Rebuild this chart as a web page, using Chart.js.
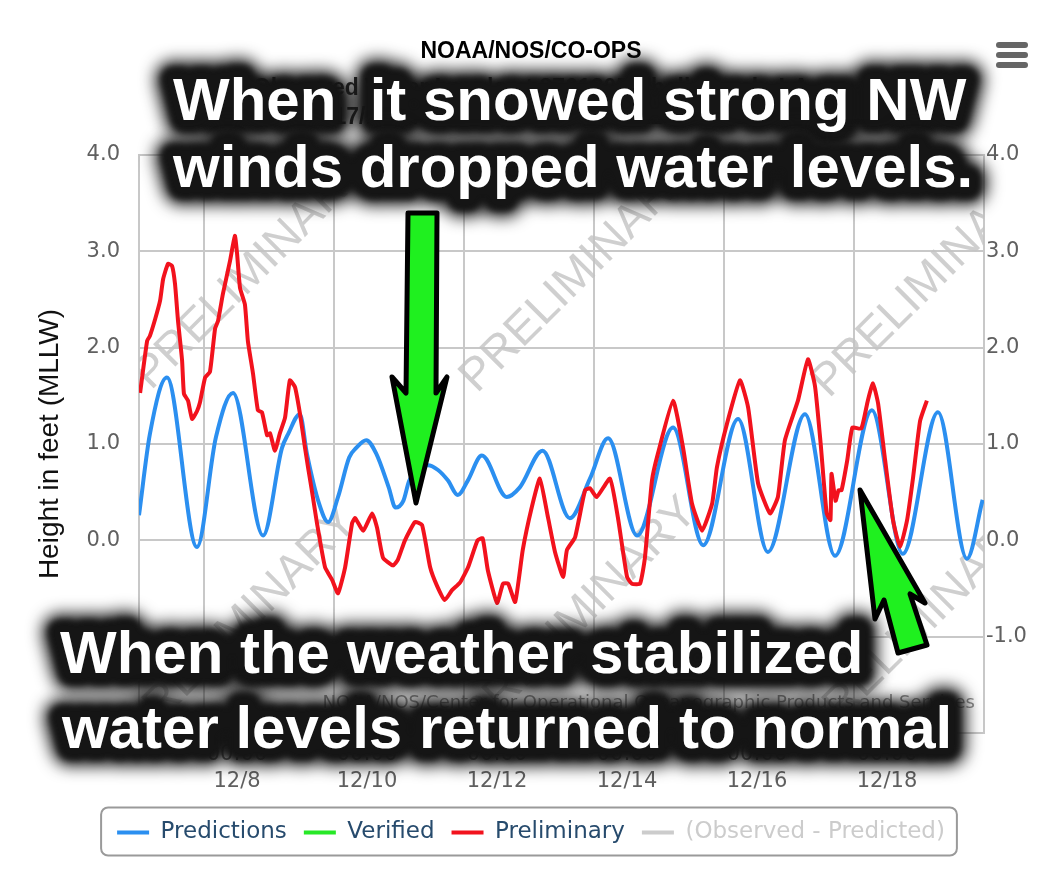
<!DOCTYPE html>
<html><head><meta charset="utf-8">
<script src="https://cdn.jsdelivr.net/npm/chart.js@4.4.0/dist/chart.umd.min.js"></script>
<style>html,body{margin:0;padding:0;background:#fff;}#wrap{width:1062px;height:876px;}canvas{display:block;}</style>
</head><body><div id="wrap"><canvas id="c" width="1062" height="876"></canvas></div>
<script>
// ---- data (hours since 2017/12/07 00:00 GMT, feet MLLW) ----
const predHours = [0, 4, 10.3, 21.4, 28.4, 34.7, 45.8, 52.8, 55, 59.4, 62, 66.5, 69.8, 73.5, 77.6, 80.2, 83.9, 87.6, 92.2, 94.7, 97.6, 99.8, 106.7, 110.4, 114.1, 117.7, 121.4, 126.6, 135.8, 140.6, 149, 159.1, 166.5, 173.2, 183.9, 197.2, 208.3, 221.2, 232.2, 245.9, 257, 270.6, 282, 295, 305.7, 311.5];
const predFeet  = [0.26, 1.1, 1.69, -0.07, 1.07, 1.53, 0.05, 0.96, 1.1, 1.31, 0.9, 0.38, 0.19, 0.45, 0.86, 0.96, 1.04, 0.9, 0.55, 0.34, 0.41, 0.62, 0.78, 0.73, 0.62, 0.47, 0.62, 0.88, 0.45, 0.55, 0.93, 0.23, 0.64, 1.06, 0.05, 1.17, -0.05, 1.26, -0.12, 1.31, -0.16, 1.35, -0.14, 1.33, -0.19, 0.42];

const prelimHours = [0.4, 3, 4, 6, 7.8, 8.9, 10.7, 12.2, 13.3, 14.4, 15.9, 16.6, 18.1, 19.6, 21.4, 22.5, 24.4, 26.2, 28.1, 29.2, 31, 33.6, 35.4, 36.2, 37.3, 39.1, 40.2, 42.1, 43.9, 45.4, 47.3, 48.4, 50.2, 52, 53.9, 55.7, 57.6, 59.4, 61.3, 62.4, 64.2, 65.7, 68.7, 71.3, 73.5, 76.1, 78.7, 79.8, 82.8, 86.1, 87.9, 90.1, 93.8, 95.6, 98.2, 101.9, 104.5, 107.5, 110, 112.9, 115.5, 118.5, 121.5, 125, 126.9, 128.8, 132.2, 134.4, 136.3, 138.9, 141.7, 145, 148, 151, 153.6, 156.6, 158, 161, 164.7, 166.5, 169, 173.9, 176.8, 180.2, 182, 185, 186.8, 189.4, 191.6, 197.2, 200.9, 204.2, 207.9, 211.6, 213.4, 217.1, 221.9, 224.9, 228.6, 233, 235.9, 238.5, 243.3, 247, 249.6, 251.7, 253.9, 255.3, 255.7, 257.2, 258.3, 259.4, 261.5, 263.4, 266.7, 269.1, 271, 272.9, 275.5, 278.4, 281, 283.6, 285.8, 288.4, 290.9];
const prelimFeet  = [1.53, 2.07, 2.12, 2.3, 2.49, 2.71, 2.87, 2.85, 2.66, 2.28, 1.87, 1.52, 1.45, 1.26, 1.34, 1.43, 1.69, 1.75, 2.2, 2.28, 2.56, 2.9, 3.16, 2.98, 2.62, 2.45, 2.07, 1.73, 1.35, 1.33, 1.09, 1.11, 0.93, 1.11, 1.27, 1.66, 1.59, 1.32, 0.96, 0.76, 0.45, 0.18, -0.28, -0.41, -0.55, -0.28, 0.18, 0.23, 0.1, 0.28, 0.13, -0.18, -0.26, -0.2, 0.0, 0.19, 0.16, -0.28, -0.47, -0.62, -0.52, -0.44, -0.28, 0.0, 0.02, -0.31, -0.65, -0.45, -0.45, -0.64, -0.1, 0.34, 0.64, 0.24, -0.12, -0.38, -0.1, 0.03, 0.52, 0.54, 0.45, 0.64, 0.24, -0.38, -0.45, -0.45, -0.18, 0.62, 0.9, 1.45, 0.96, 0.38, 0.1, 0.38, 0.76, 1.21, 1.66, 1.38, 0.59, 0.28, 0.45, 1.04, 1.45, 1.88, 1.6, 1.0, 0.28, 0.21, 0.69, 0.41, 0.52, 0.52, 0.83, 1.17, 1.16, 1.45, 1.63, 1.42, 0.83, 0.21, -0.07, 0.21, 0.65, 1.24, 1.45];

const verifiedFeet = [];
const diffFeet = [];

const xTickHours = [24, 72, 120, 168, 216, 264];
const xTickTimes = ['00:00', '00:00', '00:00', '00:00', '00:00', '00:00'];
const xTickDates = ['12/8', '12/10', '12/12', '12/14', '12/16', '12/18'];
const xMinHour = 0, xMaxHour = 312;
const yMinFeet = -2, yMaxFeet = 4, yStepFeet = 1;

const seriesNames  = ['Predictions', 'Verified', 'Preliminary', '(Observed - Predicted)'];
const seriesColors = ['#2b8ff0', '#27e827', '#f2121d', '#cccccc'];

const chartTitle = 'NOAA/NOS/CO-OPS';
const chartSubtitle = ['Observed Water Levels at 8761305 Shell Beach, LA', 'From 2017/12/07 00:00 GMT to 2017/12/19 23:59 GMT'];
const yAxisTitle = 'Height in feet (MLLW)';
const creditsText = 'NOAA/NOS/Center for Operational Oceanographic Products and Services';
const watermarkText = 'PRELIMINARY';
const noteTop = ['When  it snowed strong NW', 'winds dropped water levels.'];
const noteBottom = ['When the weather stabilized', 'water levels returned to normal'];

// ---- build ----
const pts = (xs, ys) => xs.map((x, i) => ({x: x, y: ys[i]}));
const TICK_FONT = {family: '"DejaVu Sans", Verdana, sans-serif', size: 21};
const GRID = '#c8c8c8';

const watermarkPlugin = {
  id: 'watermark',
  beforeDatasetsDraw(chart) {
    const {ctx, chartArea: a} = chart;
    ctx.save();
    ctx.beginPath(); ctx.rect(a.left, a.top, a.right - a.left, a.bottom - a.top); ctx.clip();
    ctx.font = '46px "Liberation Sans", Arial, sans-serif';
    ctx.fillStyle = 'rgba(195,195,195,0.8)';
    ctx.textAlign = 'center'; ctx.textBaseline = 'middle';
    const centers = [[252, 272], [578, 275], [930, 280], [240, 625], [580, 615], [920, 625]];
    centers.forEach(([cx, cy]) => {
      ctx.save(); ctx.translate(cx, cy); ctx.rotate(-Math.PI / 4);
      ctx.fillText(watermarkText, 0, 0); ctx.restore();
    });
    ctx.restore();
  }
};

function halo(ctx, text, x, y) {
  ctx.save();
  ctx.font = 'bold 60px "Liberation Sans", Arial, sans-serif';
  ctx.textAlign = 'left'; ctx.textBaseline = 'alphabetic';
  ctx.lineJoin = 'round'; ctx.lineCap = 'round';
  ctx.strokeStyle = '#151515'; ctx.fillStyle = '#151515';
  ctx.filter = 'blur(8px)'; ctx.lineWidth = 36; ctx.strokeText(text, x, y);
  ctx.filter = 'blur(3px)'; ctx.lineWidth = 24; ctx.strokeText(text, x, y);
  ctx.restore();
}
function whiteText(ctx, text, x, y) {
  ctx.save();
  ctx.font = 'bold 60px "Liberation Sans", Arial, sans-serif';
  ctx.textAlign = 'left'; ctx.textBaseline = 'alphabetic';
  ctx.fillStyle = '#ffffff'; ctx.fillText(text, x, y);
  ctx.restore();
}
function arrow(ctx, poly) {
  ctx.save();
  ctx.beginPath();
  poly.forEach(([x, y], i) => i ? ctx.lineTo(x, y) : ctx.moveTo(x, y));
  ctx.closePath();
  ctx.fillStyle = '#1ff01f'; ctx.fill();
  ctx.lineJoin = 'round'; ctx.lineWidth = 5; ctx.strokeStyle = '#000'; ctx.stroke();
  ctx.restore();
}

const overlayPlugin = {
  id: 'overlay',
  afterDraw(chart) {
    const ctx = chart.ctx;
    const hb = chart.legend.legendHitBoxes;
    if (hb && hb.length) {
      const l = Math.min(...hb.map(h => h.left)) - 16;
      const r = Math.max(...hb.map(h => h.left + h.width)) + 12;
      const cy = hb[0].top + hb[0].height / 2;
      ctx.save();
      ctx.beginPath(); ctx.roundRect(l, cy - 25, r - l, 48, 7);
      ctx.lineWidth = 2; ctx.strokeStyle = '#9a9a9a'; ctx.stroke();
      ctx.restore();
    }
    ctx.save();
    ctx.font = '18px "DejaVu Sans", Verdana, sans-serif';
    ctx.fillStyle = '#8c8c8c'; ctx.textAlign = 'right'; ctx.textBaseline = 'middle';
    ctx.fillText(creditsText, 975, 703);
    ctx.restore();
    ctx.save(); ctx.fillStyle = '#666666';
    [42, 52, 62].forEach(y => { ctx.beginPath(); ctx.roundRect(996, y, 32, 6, 3); ctx.fill(); });
    ctx.restore();
    halo(ctx, noteTop[0], 173, 120); halo(ctx, noteTop[1], 173, 187);
    halo(ctx, noteBottom[0], 60, 673); halo(ctx, noteBottom[1], 62, 748);
    whiteText(ctx, noteTop[0], 173, 120); whiteText(ctx, noteTop[1], 173, 187);
    whiteText(ctx, noteBottom[0], 60, 673); whiteText(ctx, noteBottom[1], 62, 748);
    arrow(ctx, [[408, 213], [437, 213], [436, 393], [447, 377], [416, 503], [392, 377], [406, 393]]);
    arrow(ctx, [[860, 490], [925, 603], [910, 594], [927, 645], [898, 653], [884, 600], [875, 619]]);
  }
};

new Chart(document.getElementById('c'), {
  type: 'line',
  data: {
    datasets: [
      {label: seriesNames[0], data: pts(predHours, predFeet), borderColor: seriesColors[0], borderWidth: 4, pointRadius: 0, cubicInterpolationMode: 'monotone', order: 3, yAxisID: 'y'},
      {label: seriesNames[1], data: verifiedFeet, borderColor: seriesColors[1], borderWidth: 4, pointRadius: 0, order: 2, yAxisID: 'y'},
      {label: seriesNames[2], data: pts(prelimHours, prelimFeet), borderColor: seriesColors[2], borderWidth: 4, pointRadius: 0, tension: 0.15, order: 1, yAxisID: 'y'},
      {label: seriesNames[3], data: diffFeet, borderColor: seriesColors[3], borderWidth: 4, pointRadius: 0, order: 4, yAxisID: 'y'}
    ]
  },
  options: {
    responsive: false, animation: false, devicePixelRatio: 1,
    layout: {padding: {top: 0, bottom: 22, left: 0, right: 0}},
    plugins: {
      title: {display: true, text: chartTitle, color: '#000', font: {family: '"Liberation Sans", Arial, sans-serif', size: 23, weight: 'bold', lineHeight: '28px'}, padding: {top: 38, bottom: 0}},
      subtitle: {display: true, text: chartSubtitle, color: '#222', font: {family: '"Liberation Sans", Arial, sans-serif', size: 23, weight: 'bold', lineHeight: '29px'}, padding: {top: 8.5, bottom: 22.5}},
      legend: {
        position: 'bottom',
        labels: {
          usePointStyle: true, pointStyleWidth: 32, boxHeight: 4, padding: 17,
          font: {family: '"DejaVu Sans", Verdana, sans-serif', size: 23},
          generateLabels(chart) {
            return chart.data.datasets.map((ds, i) => ({
              text: ds.label, fillStyle: ds.borderColor, strokeStyle: ds.borderColor,
              lineWidth: 4, pointStyle: 'line', hidden: false, datasetIndex: i,
              fontColor: i === 3 ? '#cccccc' : '#274b6d'
            }));
          }
        }
      },
      tooltip: {enabled: false}
    },
    scales: {
      x: {
        type: 'linear', position: 'bottom', min: xMinHour, max: xMaxHour,
        afterBuildTicks(s) { s.ticks = xTickHours.map(v => ({value: v})); },
        afterFit(s) { s.height = 71; },
        grid: {color: GRID, lineWidth: 2, drawTicks: false},
        border: {display: true, color: GRID, width: 2},
        ticks: {
          autoSkip: false, maxRotation: 0, padding: 8.5, labelOffset: 33,
          color: '#606060', font: Object.assign({lineHeight: '27px'}, TICK_FONT),
          callback: (v, i) => [xTickTimes[i], xTickDates[i]]
        }
      },
      y: {
        type: 'linear', position: 'left', min: yMinFeet, max: yMaxFeet,
        afterFit(s) { s.width = 139; },
        grid: {color: GRID, lineWidth: 2, drawTicks: false},
        border: {display: true, color: GRID, width: 2},
        ticks: {stepSize: yStepFeet, padding: 19, color: '#606060', font: TICK_FONT,
          callback: v => v <= yMinFeet ? '' : v.toFixed(1)},
        title: {display: true, text: yAxisTitle, color: '#111', font: {family: '"Liberation Sans", Arial, sans-serif', size: 28}, padding: {top: 33, bottom: 0}}
      },
      y2: {
        type: 'linear', position: 'right', min: yMinFeet, max: yMaxFeet,
        afterFit(s) { s.width = 78; },
        grid: {display: false, drawTicks: false},
        border: {display: true, color: GRID, width: 2},
        ticks: {stepSize: yStepFeet, padding: 2, color: '#606060', font: TICK_FONT,
          callback: v => v <= yMinFeet ? '' : v.toFixed(1)}
      }
    }
  },
  plugins: [watermarkPlugin, overlayPlugin]
});
</script>
</body></html>
